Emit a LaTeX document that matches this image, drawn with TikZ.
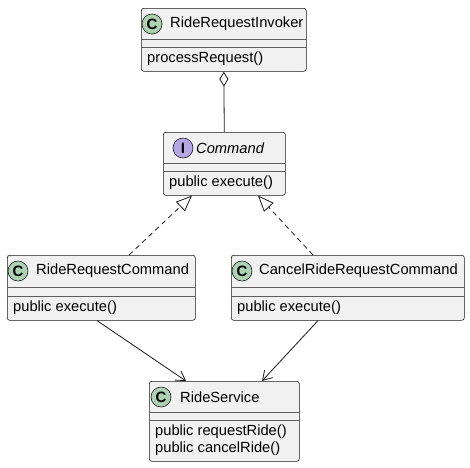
\documentclass[tikz,border=0pt]{standalone}
\usepackage{fontspec}
\setmainfont{Liberation Sans}
\usetikzlibrary{arrows.meta,calc}
\definecolor{boxfill}{HTML}{F1F1F1}
\definecolor{boxline}{HTML}{181818}
\definecolor{cfill}{HTML}{ADD1B2}
\definecolor{ifill}{HTML}{B4A7E5}
\tikzset{
  classbox/.style={draw=boxline, fill=boxfill, rounded corners=2.5pt, line width=0.6pt, inner sep=0pt, anchor=north west},
  sepline/.style={draw=boxline!70, line width=0.5pt},
  badge/.style={circle, draw=boxline, line width=0.6pt, minimum size=20pt, inner sep=0pt, font=\fontsize{15}{15}\selectfont\bfseries},
  title/.style={font=\fontsize{14.7}{17}\selectfont, inner sep=0pt, anchor=west},
  member/.style={font=\fontsize{14.7}{17}\selectfont, inner sep=0pt, anchor=west, align=left},
  conn/.style={draw=boxline, line width=0.8pt},
}
\newcommand{\umlbox}[7]{% name, left, top, right, sep1, sep2, bottom
  \node[classbox, minimum width=#4pt-#2pt, minimum height=#7pt-#3pt] (#1) at (#2,#3) {};
  \draw[sepline] (#2,#5) -- (#4,#5);
  \draw[sepline] (#2,#6) -- (#4,#6);
}
\begin{document}
\begin{tikzpicture}[x=1pt,y=-1pt]
\useasboundingbox (0,0) rectangle (470,467);
% RideRequestInvoker
\umlbox{inv}{141}{8}{306}{39}{47}{71}
\node[badge, fill=cfill] (invc) at (152,24) {C};
\node[title] (invt) at (170,24) {RideRequestInvoker};
\node[member] (invm) at (147,59) {processRequest()};
% Command
\umlbox{cmd}{163}{132}{285}{163}{171}{195}
\node[badge, fill=ifill] (cmdc) at (183,148) {I};
\node[title, font=\fontsize{14.7}{17}\selectfont\itshape] (cmdt) at (196,148) {Command};
\node[member] (cmdm) at (169,183) {public execute()};
% RideRequestCommand
\umlbox{rrc}{7}{255}{195}{287}{296}{320}
\node[badge, fill=cfill] (rrcc) at (18,271) {C};
\node[title] (rrct) at (36,271) {RideRequestCommand};
\node[member] (rrcm) at (13,308) {public execute()};
% CancelRideRequestCommand
\umlbox{crc}{231}{255}{464}{287}{296}{320}
\node[badge, fill=cfill] (crcc) at (242,271) {C};
\node[title] (crct) at (259,271) {CancelRideRequestCommand};
\node[member] (crcm) at (237,308) {public execute()};
% RideService
\umlbox{rs}{149}{381}{299}{412}{420}{461}
\node[badge, fill=cfill] (rsc) at (161,397) {C};
\node[title] (rst) at (180,397) {RideService};
\node[member] (rsm) at (155,440) {public requestRide()\\public cancelRide()};
% connectors
\draw[conn, {Diamond[open, length=15pt, width=9pt, line width=0.8pt]}-] (inv.south) -- (cmd.north);
\draw[conn, dashed, dash pattern=on 5pt off 4pt, -{Triangle[open, length=16pt, width=13pt, line width=0.8pt]}]
  ($(rrc.north west)+(122,0)$) -- ($(cmd.south west)+(29,0)$);
\draw[conn, dashed, dash pattern=on 5pt off 4pt, -{Triangle[open, length=16pt, width=13pt, line width=0.8pt]}]
  ($(crc.north west)+(82,0)$) -- ($(cmd.south west)+(95,0)$);
\draw[conn, -{Straight Barb[length=9pt, width=11pt, line width=0.8pt]}]
  ($(rrc.south west)+(90,0)$) -- ($(rs.north west)+(37,0)$);
\draw[conn, -{Straight Barb[length=9pt, width=11pt, line width=0.8pt]}]
  ($(crc.south west)+(87,0)$) -- ($(rs.north west)+(113,0)$);
\end{tikzpicture}
\end{document}
